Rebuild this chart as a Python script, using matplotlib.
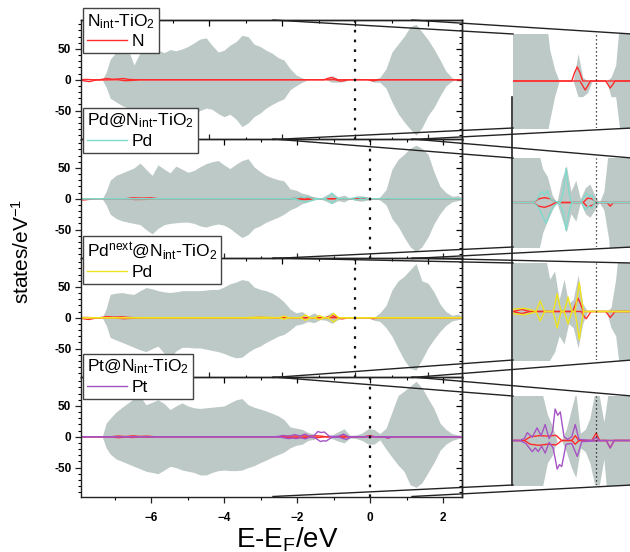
import numpy as np
import matplotlib
matplotlib.use("Agg")
import matplotlib.pyplot as plt
from matplotlib.lines import Line2D
from matplotlib.ticker import MultipleLocator, FixedLocator

plt.rcParams['font.family'] = ['Liberation Sans', 'DejaVu Sans']
plt.rcParams['mathtext.default'] = 'regular'

# ---------------- data ----------------
# total DOS energy grid (eV, on the common bottom axis)
tdos_energy = [-7.34, -7.23, -7.12, -6.96, -6.79, -6.63, -6.47, -6.30, -6.14, -5.97,
               -5.81, -5.64, -5.48, -5.32, -5.15, -4.99, -4.82, -4.66, -4.49, -4.33,
               -4.16, -4.00, -3.84, -3.67, -3.51, -3.34, -3.18, -3.01, -2.85, -2.68,
               -2.52, -2.36, -2.19, -2.03, -1.86, -1.70, -1.53, -1.37, -1.21, -1.04,
               -0.88, -0.71, -0.55, -0.38, -0.22, -0.05, 0.11, 0.27, 0.44, 0.60,
               0.77, 0.93, 1.10, 1.26, 1.42, 1.59, 1.75, 1.92, 2.08, 2.25,
               2.41, 2.52]

tdos1_up = [0, 12, 33, 45, 76, 50, 24, 44, 50, 42, 48, 44, 49, 47, 50, 54, 60, 66, 68, 56,
            45, 48, 56, 62, 72, 70, 58, 54, 48, 43, 36, 32, 18, 8, 3, 0, 0, 0, 0, 7,
            1, 0, 0, 0, 0, 0, 1, 4, 18, 45, 58, 70, 86, 90, 78, 65, 50, 32, 14, 3, 0, 0]
tdos1_dn = [0, -12, -30, -36, -42, -46, -52, -48, -54, -52, -58, -62, -56, -58, -66, -60, -55, -50, -46, -48,
            -55, -60, -56, -64, -76, -70, -60, -54, -46, -40, -35, -31, -16, -10, -4, 0, 0, 0, 0, -4,
            -4, -3, 0, 0, 0, 0, -4, -4, -14, -36, -55, -68, -80, -90, -78, -58, -45, -26, -10, -2, 0, 0]

tdos2_up = [0, 12, 30, 38, 42, 46, 50, 58, 48, 38, 55, 48, 42, 53, 48, 43, 46, 52, 57, 60,
            62, 55, 49, 56, 62, 65, 52, 44, 38, 34, 31, 29, 16, 14, 9, 7, 2, 0, 6, 10,
            3, 6, 1, 4, 5, 2, 0, 3, 15, 48, 64, 72, 82, 87, 82, 72, 44, 20, 10, 4, 5, 2]
tdos2_dn = [0, -10, -25, -32, -36, -38, -40, -42, -50, -57, -48, -42, -40, -39, -38, -38, -40, -44, -46, -43,
            -41, -43, -48, -56, -63, -58, -48, -44, -38, -34, -30, -25, -18, -14, -8, -5, -2, 0, -4, -8,
            -3, -5, 0, -3, -4, -2, 0, -2, -10, -32, -45, -62, -78, -86, -78, -62, -41, -24, -12, -5, -3, -1]

tdos3_up = [0, 15, 38, 40, 41, 39, 38, 44, 49, 47, 44, 42, 41, 42, 44, 44, 44, 44, 45, 46,
            46, 50, 55, 58, 62, 60, 50, 46, 44, 40, 34, 26, 14, 8, 10, 3, 8, 2, 3, 9,
            2, 0, 0, 0, 0, 0, 1, 8, 20, 45, 60, 67, 78, 88, 60, 56, 42, 22, 10, 4, 6, 3]
tdos3_dn = [0, -12, -32, -36, -40, -44, -48, -52, -55, -50, -46, -58, -65, -54, -48, -48, -49, -49, -51, -53,
            -55, -58, -62, -65, -64, -56, -50, -46, -40, -35, -30, -27, -20, -12, -10, -6, -8, -3, -4, -9,
            -3, 0, 0, 0, 0, 0, -4, -6, -16, -30, -50, -68, -82, -85, -68, -49, -35, -22, -12, -5, -3, -1]

tdos4_up = [0, 22, 30, 40, 48, 55, 62, 66, 52, 56, 60, 54, 44, 50, 55, 50, 47, 46, 47, 48,
            49, 50, 55, 60, 62, 52, 48, 45, 42, 38, 34, 28, 16, 14, 12, 7, 4, 0, 0, 3,
            8, 13, 2, 3, 6, 13, 12, 5, 14, 40, 67, 74, 82, 90, 80, 62, 46, 22, 12, 5, 3, 2]
tdos4_dn = [0, -18, -28, -36, -40, -44, -48, -52, -56, -58, -60, -54, -48, -50, -54, -56, -58, -62, -62, -58,
            -55, -54, -55, -55, -54, -50, -47, -42, -38, -33, -29, -25, -18, -14, -12, -6, -4, 0, 0, -3,
            -7, -10, -2, -3, -6, -12, -12, -5, -20, -33, -46, -56, -78, -82, -75, -58, -42, -22, -12, -6, -3, -1]

# Fermi level of each panel on the common axis (eV)
fermi_shift = [-0.41, 0.0, -0.41, 0.0]

# projected DOS (E - E_F, eV)
n1_up_e = [-7.6, -7.35, -7.2, -7.0, -6.8, -6.65, -6.5, -6.35, -6.2, -6.0, -0.85, -0.76, -0.66, -0.56, -0.47, 3.0]
n1_up = [0, 0.5, 0, 0, 2.0, 0.8, 1.2, 2.0, 0.5, 0, 0, 2.0, 3.6, 2.0, 0, 0]
n1_dn_e = [-7.6, -7.45, -7.28, -7.1, -6.5, -6.3, -6.1, -5.9, -0.56, -0.47, -0.38, -0.29, -0.2,
           0.33, 0.42, 0.49, 0.57, 0.66, 3.0]
n1_dn = [0, -1.5, -3.0, -0.5, 0, -1.5, -1.0, 0, 0, -1.2, -2.3, -1.2, 0, 0, -1.0, -1.8, -1.0, 0, 0]

n2_up_e = [-8.0, -7.8, -7.6, -6.7, -6.5, -6.25, -6.0, -5.8, -2.2, -2.0, -1.8, -1.6, -1.4,
           -0.45, -0.3, -0.15, 0.0, 3.0]
n2_up = [0, 0, 0, 0, 1.5, 1.0, 1.5, 0, 0, 1.0, 1.3, 1.0, 0, 0, 1.2, 1.0, 0, 0]
n2_dn_e = [-8.0, -7.85, -7.7, -7.55, -6.7, -6.45, -6.15, -5.8, -2.2, -2.0, -1.8, -1.6, -1.4,
           -0.45, -0.3, -0.15, 0.0, 0.38, 0.49, 0.6, 3.0]
n2_dn = [-0.5, -2.0, -1.0, 0, 0, -1.2, -1.0, 0, 0, -1.0, -1.3, -0.8, 0, 0, -1.2, -0.8, 0, 0, -1.0, 0, 0]

pd2_up_e = [-8.0, -2.2, -2.05, -1.9, -1.8, -1.7, -1.6, -1.45, -1.25, -1.15, -1.05, -0.95, -0.85,
            -0.55, -0.42, -0.33, -0.25, -0.15, -0.05, 3.0]
pd2_up = [0, 0, 1.0, 3.0, 2.0, 3.2, 1.0, 0.3, 0, 2.5, 9.2, 2.5, 0, 0, 1.5, 2.5, 1.5, 2.0, 0, 0]
pd2_dn_e = [-8.0, -2.2, -2.05, -1.95, -1.85, -1.75, -1.62, -1.5, -1.3, -1.15, -1.05, -0.95, -0.85,
            -0.5, -0.38, -0.28, -0.15, -0.05, 3.0]
pd2_dn = [0, 0, -1.0, -2.3, -4.0, -5.5, -3.0, -1.0, 0, -2.5, -7.5, -2.5, 0, 0, -2.0, -1.0, -1.5, 0, 0]

n3_up_e = [-7.6, -7.35, -7.2, -7.0, -6.8, -6.6, -6.4, -6.2, -6.0, -2.9, -2.6, -2.3,
           -0.82, -0.72, -0.63, -0.54, -0.45, 3.0]
n3_up = [0, 0.5, 0, 0, 1.8, 1.0, 1.5, 0.5, 0, 0, 0.5, 0, 0, 1.8, 3.3, 1.8, 0, 0]
n3_dn_e = [-7.6, -7.45, -7.3, -7.1, -6.6, -6.35, -6.1, -5.9, -2.9, -2.6, -2.3, -0.52, -0.44, -0.35,
           -0.27, -0.18, 0.33, 0.42, 0.49, 0.57, 0.66, 3.0]
n3_dn = [0, -1.5, -2.8, -0.5, 0, -1.5, -0.8, 0, 0, -0.5, 0, 0, -1.0, -1.8, -1.0, 0, 0, -0.8, -1.5, -0.8, 0, 0]

pd3_e = [-7.6, -3.0, -2.85, -2.5, -2.2, -2.1, -2.03, -1.95, -1.87, -1.8, -1.5, -1.43, -1.36, -1.29,
         -1.22, -1.12, -1.05, -0.98, -0.91, -0.84, -0.74, -0.66, -0.59, -0.52, -0.44, 3.0]
pd3_up = [0, 0, 0.6, 0.8, 0.3, 0, 1.2, 2.6, 1.2, 0, 0, 2.0, 4.4, 2.0, 0, 0, 1.6, 3.6, 1.6, 0,
          0, 3.5, 7.2, 3.5, 0, 0]
pd3_dn = [0, 0, -0.6, -0.8, -0.3, 0, -1.1, -2.3, -1.1, 0, 0, -1.9, -4.1, -1.9, 0, 0, -1.4, -3.1, -1.4, 0,
          0, -3.4, -7.0, -3.4, 0, 0]

n4_up_e = [-8.0, -7.1, -6.9, -6.7, -6.5, -6.3, -6.1, -5.9, -2.5, -2.3, -2.0, -1.7, -1.4, -1.2,
           -0.85, -0.73, -0.6, -0.15, 0.0, 0.12, 3.0]
n4_up = [0, 0, 1.2, 0.3, 1.5, 0.5, 1.0, 0, 0, 1.0, 1.3, 1.2, 1.4, 0, 0, 1.3, 0, 0, 2.0, 0, 0]
n4_dn_e = [-8.0, -7.1, -6.9, -6.7, -6.5, -6.3, -6.1, -5.9, -2.5, -2.3, -2.0, -1.7, -1.4, -1.2,
           -0.85, -0.73, -0.6, 0.35, 0.49, 0.63, 3.0]
n4_dn = [0, 0, -1.5, -0.5, -1.2, -0.3, -0.8, 0, 0, -1.0, -1.3, -1.0, -1.2, 0, 0, -1.0, 0, 0, -2.0, 0, 0]

pt4_up_e = [-8.0, -2.65, -2.5, -2.4, -2.23, -2.06, -1.92, -1.78, -1.64, -1.52, -1.43, -1.34, -1.25,
            -1.12, -1.0, -0.85, -0.73, -0.6, -0.15, 0.0, 0.12, 3.0]
pt4_up = [0, 0, 0.6, 2.1, 0.9, 3.4, 1.3, 4.3, 0.5, 2.5, 8.5, 6.8, 7.7, 1.0, 0.3, 1.0, 4.3, 0.3, 0, 0.8, 0, 0]
pt4_dn_e = [-8.0, -2.65, -2.45, -2.23, -2.12, -2.02, -1.9, -1.78, -1.64, -1.5, -1.36, -1.28, -1.2,
            -1.05, -0.85, -0.66, -0.5, 0.35, 0.49, 0.63, 3.0]
pt4_dn = [0, 0, -0.8, -3.0, -2.0, -3.0, -1.5, -3.4, -0.5, -2.0, -7.7, -6.5, -7.0, -1.0, -0.8, -4.3, -0.3,
          0, -2.0, 0, 0]

titles = ['N$_{int}$-TiO$_2$', 'Pd@N$_{int}$-TiO$_2$', 'Pd$^{next}$@N$_{int}$-TiO$_2$', 'Pt@N$_{int}$-TiO$_2$']
metal_labels = ['N', 'Pd', 'Pd', 'Pt']

# ---------------- styling / layout ----------------
GRAY = '#bdc9c6'
RED = '#ff2b2b'
metal_colors = [RED, '#7fd9cc', '#eee31c', '#a553c4']
W, H = 630, 552
fx = lambda px: px / W
fy = lambda py: 1 - py / H

common_xlim = (-7.92, 2.52)
zoom_lo, zoom_hi = -2.66, 1.15       # zoomed window on the common axis
inset_xlim = (-2.9, 1.25)
inset_ylim = (-12, 12)
panel_tops = [20, 139, 258, 377]
panel_h = 119.5
inset_boxes = [(34, 128), (158, 247), (263, 360), (396, 485)]
legend_tops = [8, 108, 236, 354]

fig = plt.figure(figsize=(6.3, 5.52), dpi=100)

tdos = [(tdos1_up, tdos1_dn), (tdos2_up, tdos2_dn), (tdos3_up, tdos3_dn), (tdos4_up, tdos4_dn)]
n_pdos = [((n1_up_e, n1_up), (n1_dn_e, n1_dn)), ((n2_up_e, n2_up), (n2_dn_e, n2_dn)),
          ((n3_up_e, n3_up), (n3_dn_e, n3_dn)), ((n4_up_e, n4_up), (n4_dn_e, n4_dn))]
m_pdos = [None, ((pd2_up_e, pd2_up), (pd2_dn_e, pd2_dn)), ((pd3_e, pd3_up), (pd3_e, pd3_dn)),
          ((pt4_up_e, pt4_up), (pt4_dn_e, pt4_dn))]

spine_c = '#222222'
axes = []
insets = []
for i in range(4):
    top = panel_tops[i]
    ax = fig.add_axes([fx(81), fy(top + panel_h), fx(462) - fx(81), panel_h / H])
    axes.append(ax)
    sh = fermi_shift[i]
    e = np.array(tdos_energy) - sh
    up, dn = tdos[i]

    def draw(a, lw, dotted_style, dotted_lw):
        a.fill_between(e, 0, up, color=GRAY, lw=0)
        a.fill_between(e, 0, dn, color=GRAY, lw=0)
        (nu_e, nu), (nd_e, nd) = n_pdos[i]
        a.plot(nu_e, nu, color=RED, lw=lw)
        a.plot(nd_e, nd, color=RED, lw=lw)
        h = None
        if m_pdos[i] is not None:
            (mu_e, mu), (md_e, md) = m_pdos[i]
            h, = a.plot(mu_e, mu, color=metal_colors[i], lw=lw)
            a.plot(md_e, md, color=metal_colors[i], lw=lw)
        a.axvline(0, color='#111111', ls=dotted_style, lw=dotted_lw)
        return h

    h = draw(ax, 1.0, (0, (1.2, 3.2)), 1.6)
    ax.set_xlim(common_xlim[0] - sh, common_xlim[1] - sh)
    ax.set_ylim(-97, 97)
    ax.yaxis.set_major_locator(FixedLocator([-50, 0, 50]))
    ax.yaxis.set_minor_locator(MultipleLocator(10))
    ax.xaxis.set_major_locator(MultipleLocator(2))
    ax.xaxis.set_minor_locator(MultipleLocator(1))
    for s in ax.spines.values():
        s.set_color(spine_c)
        s.set_linewidth(1.0)
    ax.tick_params(axis='y', which='major', direction='out', length=4, width=0.9, pad=3,
                   labelsize=8.5, colors=spine_c)
    ax.tick_params(axis='y', which='minor', direction='out', length=2.5, width=0.8)
    bottom_dir = 'out' if i == 3 else 'in'
    ax.tick_params(axis='x', which='major', direction=bottom_dir, length=4.5, width=0.9,
                   labelsize=8.5, pad=7, labelbottom=(i == 3), colors=spine_c)
    ax.tick_params(axis='x', which='minor', direction=bottom_dir, length=2.5, width=0.8)
    for lab in ax.get_xticklabels():
        lab.set_fontweight('bold')
        lab.set_color('black')
    ax.set_yticklabels(['-50', '0', '50'], fontweight='bold', fontsize=8.5, color='black')

    sec_y = ax.secondary_yaxis('right')
    sec_y.yaxis.set_major_locator(FixedLocator([-50, 0, 50]))
    sec_y.yaxis.set_minor_locator(MultipleLocator(10))
    sec_y.tick_params(which='major', direction='in', length=4.5, width=0.9, labelright=False)
    sec_y.tick_params(which='minor', direction='in', length=2.5, width=0.8)
    sec_y.spines['right'].set_linewidth(1.0)
    sec_x = ax.secondary_xaxis('top')
    sec_x.xaxis.set_major_locator(MultipleLocator(2))
    sec_x.xaxis.set_minor_locator(MultipleLocator(1))
    sec_x.tick_params(which='major', direction='in', length=4.5, width=0.9, labeltop=False)
    sec_x.tick_params(which='minor', direction='in', length=2.5, width=0.8)
    sec_x.spines['top'].set_linewidth(1.0)

    handle = h if h is not None else Line2D([], [], color=RED, lw=1.0)
    leg = ax.legend([handle], [metal_labels[i]], title=titles[i], loc='upper left',
                    bbox_to_anchor=(fx(83), fy(legend_tops[i])), bbox_transform=fig.transFigure,
                    borderaxespad=0, frameon=True, fancybox=False, framealpha=1,
                    edgecolor='#444444', fontsize=12.5, title_fontsize=12.5,
                    handlelength=2.3, handletextpad=0.3, borderpad=0.22, labelspacing=0.2,
                    alignment='left')
    leg.get_frame().set_linewidth(1.0)
    leg.set_zorder(10)

    # inset (magnified) panel
    it, ib = inset_boxes[i]
    ins = fig.add_axes([fx(513), fy(ib), fx(632) - fx(513), (ib - it) / H])
    insets.append(ins)
    draw(ins, 1.0, (0, (1, 2.2)), 0.9)
    ins.set_xlim(*inset_xlim)
    ins.set_ylim(*inset_ylim)
    ins.set_axis_off()

# zoom connector lines
to_fig = fig.transFigure.inverted()
ref = axes[3]
x_lo = to_fig.transform(ref.transData.transform((zoom_lo, 0)))[0]
x_hi = to_fig.transform(ref.transData.transform((zoom_hi, 0)))[0]
for i in range(4):
    top = fy(panel_tops[i])
    bot = fy(panel_tops[i] + panel_h)
    it, ib = inset_boxes[i]
    for (xa, ya, xb, yb) in [(x_lo, top, fx(513), fy(it)), (x_hi, top, fx(632), fy(it)),
                             (x_lo, bot, fx(513), fy(ib)), (x_hi, bot, fx(632), fy(ib))]:
        fig.add_artist(Line2D([xa, xb], [ya, yb], transform=fig.transFigure,
                              color='#222222', lw=1.0))
fig.add_artist(Line2D([fx(512), fx(512)], [fy(97), fy(485)], transform=fig.transFigure,
                      color='#222222', lw=1.2))

fig.text(fx(22), fy(251), 'states/eV$^{-1}$', rotation=90, ha='center', va='center', fontsize=15)
fig.text(fx(287), fy(547), 'E-E$_F$/eV', ha='center', va='baseline', fontsize=20)

fig.savefig('out.png', dpi=100)
